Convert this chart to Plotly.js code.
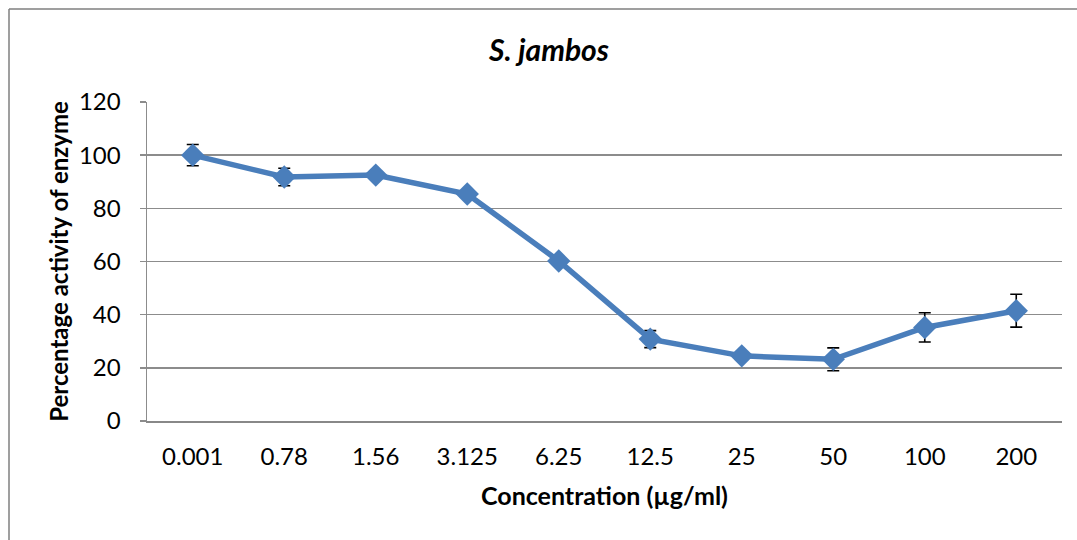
<!DOCTYPE html>
<html>
<head>
<meta charset="utf-8">
<script src="https://cdn.plot.ly/plotly-3.0.1.min.js"></script>
<style>html,body{margin:0;padding:0;background:#fff;}#chart{width:1077px;height:540px;}</style>
</head>
<body>
<div id="chart"></div>
<script>
const concentrations = ["0.001", "0.78", "1.56", "3.125", "6.25", "12.5", "25", "50", "100", "200"];
const activity = [100, 91.8, 92.5, 85.4, 60.2, 30.8, 24.5, 23.2, 35.2, 41.5];
const errorValues = [4, 3.3, 1, 1, 1, 3.2, 1.5, 4.3, 5.5, 6.2];
const yTicks = [0, 20, 40, 60, 80, 100, 120];

const FONT = "Lato, 'Open Sans', sans-serif";

const trace = {
  type: "scatter",
  mode: "lines+markers",
  x: concentrations,
  y: activity,
  line: {color: "#4A7EBB", width: 5.5},
  marker: {symbol: "diamond", size: 18, color: "#4A7EBB", line: {width: 0}},
  error_y: {type: "data", array: errorValues, visible: true, color: "#000", thickness: 1.6, width: 6},
  cliponaxis: false
};

const layout = {
  width: 1077,
  height: 540,
  margin: {l: 147, r: 15, t: 102, b: 119},
  paper_bgcolor: "#fff",
  plot_bgcolor: "#fff",
  showlegend: false,
  title: {
    text: "<b><i>S. jambos</i></b>",
    font: {family: FONT, size: 30, color: "#000"},
    xref: "container", x: 549/1077, xanchor: "center",
    yref: "container", y: 1 - 50/540, yanchor: "middle"
  },
  xaxis: {
    type: "category",
    range: [-0.5, concentrations.length - 0.5],
    showgrid: false,
    showline: true, linecolor: "#888", linewidth: 1.5,
    ticks: "", ticklabelstandoff: 14,
    tickfont: {family: FONT, size: 24, color: "#000"},
    title: {text: "<b>Concentration (µg/ml)</b>", font: {family: FONT, size: 25, color: "#000"}, standoff: 18},
    fixedrange: true
  },
  yaxis: {
    range: [0, 120],
    tickvals: yTicks,
    showgrid: true, gridcolor: "#8c8c8c", gridwidth: 1.5,
    showline: true, linecolor: "#8c8c8c", linewidth: 1.5,
    ticks: "outside", ticklen: 6, tickcolor: "#8c8c8c", tickwidth: 1.5,
    ticklabelstandoff: 14,
    zeroline: false,
    tickfont: {family: FONT, size: 24, color: "#000"},
    title: {text: "<b>Percentage activity of enzyme</b>", font: {family: FONT, size: 24, color: "#000"}, standoff: 3},
    fixedrange: true
  },
  shapes: [
    {type: "line", xref: "paper", yref: "paper", x0: (9-147)/915, x1: (9-147)/915, y0: (421-9)/319, y1: -0.7, line: {color: "#7f7f7f", width: 1.5}},
    {type: "line", xref: "paper", yref: "paper", x0: (9-147)/915, x1: 1.2, y0: (421-9)/319, y1: (421-9)/319, line: {color: "#7f7f7f", width: 1.5}}
  ]
};

Plotly.newPlot("chart", [trace], layout, {staticPlot: true, displayModeBar: false});
</script>
</body>
</html>
